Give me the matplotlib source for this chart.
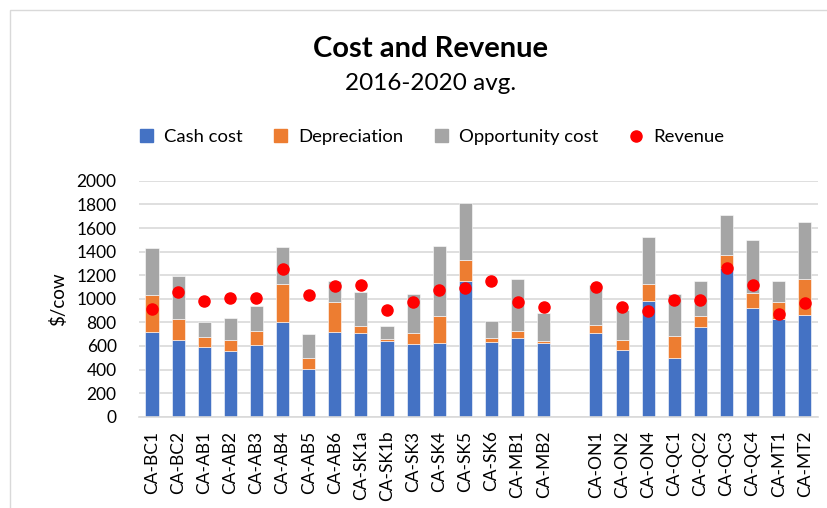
import numpy as np
import matplotlib
matplotlib.use('Agg')
import matplotlib.pyplot as plt
from matplotlib.patches import Rectangle
from matplotlib.lines import Line2D

# data (values in $/cow), '' = empty slot between groups
farms = ['CA-BC1', 'CA-BC2', 'CA-AB1', 'CA-AB2', 'CA-AB3', 'CA-AB4', 'CA-AB5', 'CA-AB6',
         'CA-SK1a', 'CA-SK1b', 'CA-SK3', 'CA-SK4', 'CA-SK5', 'CA-SK6', 'CA-MB1', 'CA-MB2',
         '', 'CA-ON1', 'CA-ON2', 'CA-ON4', 'CA-QC1', 'CA-QC2', 'CA-QC3', 'CA-QC4', 'CA-MT1', 'CA-MT2']
cash_cost = [720, 647, 590, 559, 607, 800, 404, 720, 709, 641, 619, 627, 1150, 633, 669, 627,
             np.nan, 709, 568, 980, 500, 763, 1263, 918, 825, 864]
depreciation = [314, 183, 88, 94, 119, 327, 96, 255, 62, 17, 90, 229, 181, 31, 57, 11,
                np.nan, 65, 79, 147, 186, 90, 110, 133, 144, 300]
opportunity_cost = [398, 362, 124, 186, 209, 308, 200, 172, 285, 110, 333, 590, 477, 144, 441, 243,
                    np.nan, 345, 257, 393, 354, 300, 336, 449, 178, 486]
revenue = [912, 1056, 980, 1008, 1008, 1254, 1031, 1107, 1113, 901, 969, 1071, 1088, 1155, 969, 932,
           np.nan, 1099, 932, 895, 989, 989, 1257, 1113, 867, 960]

c_blue = '#4472C4'
c_orange = '#ED7D31'
c_gray = '#A5A5A5'
c_red = '#FF0000'
grid_c = '#D9D9D9'

plt.rcParams['font.family'] = ['Lato', 'DejaVu Sans']

fig = plt.figure(figsize=(8.27, 5.08), dpi=100)
ax = fig.add_axes([0.168, 0.1797, 0.821, 0.4643])

x = np.arange(len(farms))
cash = np.array(cash_cost, dtype=float)
dep = np.array(depreciation, dtype=float)
opp = np.array(opportunity_cost, dtype=float)

w = 0.5
ax.bar(x, cash, w, color=c_blue, edgecolor='white', linewidth=0.4, zorder=2)
ax.bar(x, dep, w, bottom=cash, color=c_orange, edgecolor='white', linewidth=0.4, zorder=2)
ax.bar(x, opp, w, bottom=cash + dep, color=c_gray, edgecolor='white', linewidth=0.4, zorder=2)
ax.plot(x, revenue, 'o', color=c_red, markersize=8, zorder=3, linestyle='none')

ax.set_xlim(-0.5, len(farms) - 0.5)
ax.set_ylim(0, 2000)
ax.set_yticks(np.arange(0, 2001, 200))
ax.set_xticks(x)
ax.set_xticklabels(farms, rotation=90, fontsize=12.5)
ax.tick_params(axis='y', labelsize=12.5, length=0, pad=16)
ax.tick_params(axis='x', length=0, pad=10)
ax.yaxis.grid(True, color=grid_c, linewidth=1.2, zorder=0)
ax.set_axisbelow(True)
for s in ['top', 'right', 'left']:
    ax.spines[s].set_visible(False)
ax.spines['bottom'].set_color(grid_c)
ax.spines['bottom'].set_linewidth(1.2)
ax.set_ylabel('$/cow', fontsize=13.5, labelpad=7)

fig.text(0.5205, 0.903, 'Cost and Revenue', ha='center', va='center', fontsize=21, fontweight='bold')
fig.text(0.5205, 0.835, '2016-2020 avg.', ha='center', va='center', fontsize=17.5)

handles = [Rectangle((0, 0), 1, 1, color=c_blue),
           Rectangle((0, 0), 1, 1, color=c_orange),
           Rectangle((0, 0), 1, 1, color=c_gray),
           Line2D([], [], marker='o', color=c_red, linestyle='none', markersize=8)]
fig.legend(handles, ['Cash cost', 'Depreciation', 'Opportunity cost', 'Revenue'],
           loc='center', bbox_to_anchor=(0.523, 0.73), ncol=4, frameon=False,
           fontsize=13.3, handlelength=0.7, handleheight=0.7, handletextpad=0.6, columnspacing=1.7)

# chart frame
fig.patches.append(Rectangle((10 / 827, -0.1), 1.2, 1 - 10 / 508 + 0.1, transform=fig.transFigure,
                             fill=False, edgecolor=grid_c, linewidth=1))

fig.savefig('out.png', dpi=100)
